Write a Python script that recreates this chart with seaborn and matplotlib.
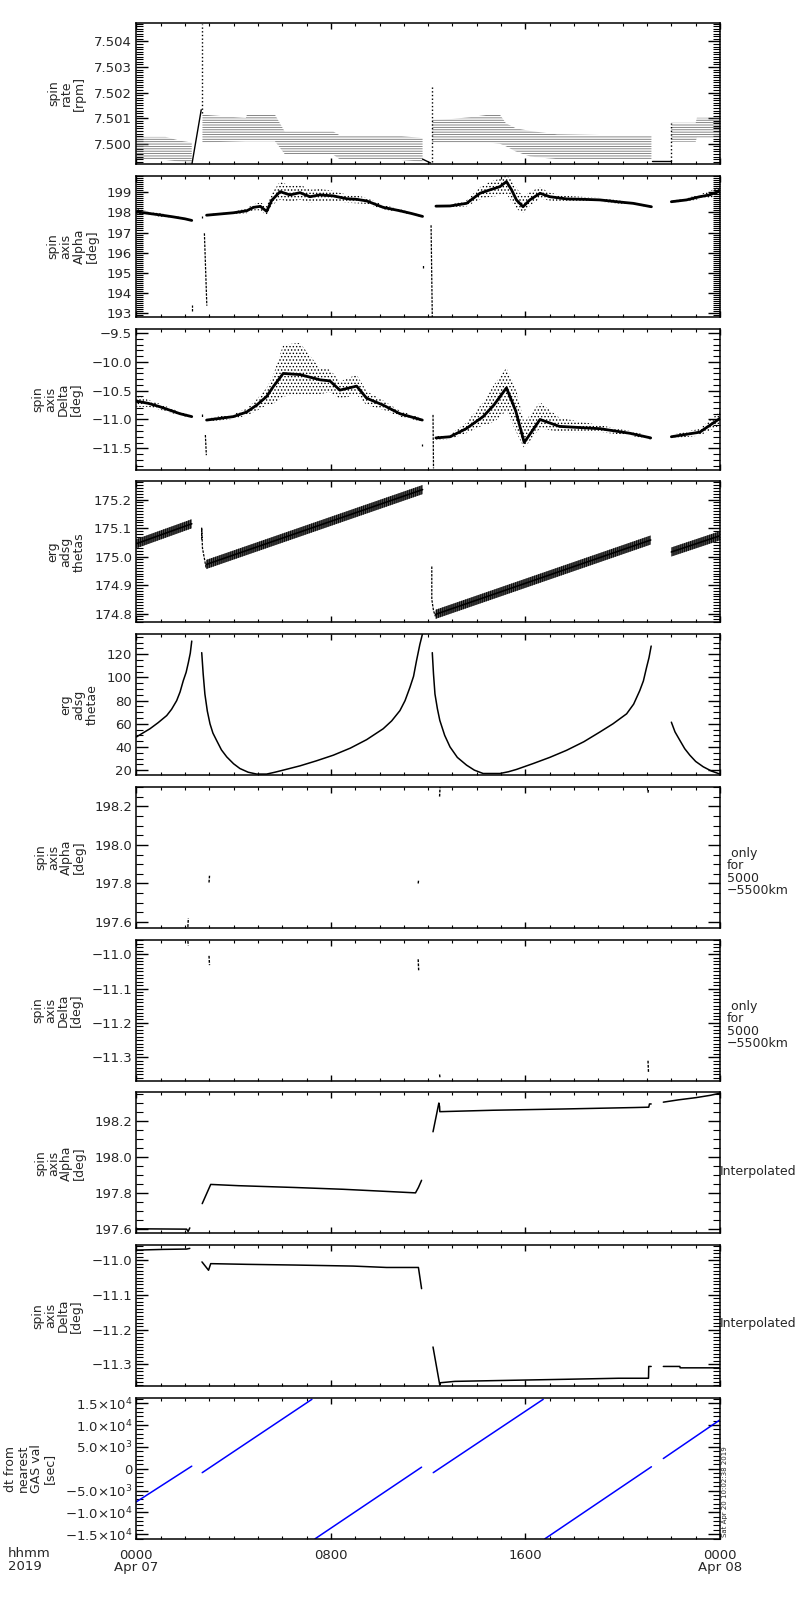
import numpy as np
import pandas as pd
import matplotlib
matplotlib.use('Agg')
import matplotlib.pyplot as plt
from matplotlib.ticker import MultipleLocator
import seaborn as sns

sns.set_style('ticks')
plt.rcParams['font.family'] = ['DejaVu Sans']
plt.rcParams['hatch.linewidth'] = 0.6
plt.rcParams['axes.linewidth'] = 1.1

# time axis (hours from 2019-04-07 00:00)
hour_ticks = [0, 8, 16, 24]
hour_labels = ['0000\nApr 07', '0800', '1600', '0000\nApr 08']

# --- panel 1: spin rate [rpm] (quantized band)
rate_band_t = [0, 1.2, 1.8, 2.28,
               2.72, 4.5, 4.55, 5.7, 6.1, 8.1, 8.4, 10.84, 11.77,
               12.17, 13.0, 13.8, 14.5, 14.95, 15.2, 15.6, 16.2, 17.3, 21.18,
               22.0, 23.0, 23.05, 24.0]
rate_band_hi = [7.50027, 7.50027, 7.50012, 7.50005,
                7.50114, 7.50101, 7.50114, 7.50114, 7.50048, 7.50048, 7.50031, 7.50031, 7.50022,
                7.50094, 7.50097, 7.50105, 7.50114, 7.50114, 7.5008, 7.50061, 7.5005, 7.50037, 7.50031,
                7.50082, 7.50082, 7.50102, 7.50102]
rate_band_lo = [7.49937, 7.49937, 7.4993, 7.49925,
                7.50005, 7.5001, 7.5001, 7.5001, 7.4996, 7.49957, 7.49937, 7.49937, 7.4993,
                7.50005, 7.50005, 7.50005, 7.50005, 7.5, 7.4999, 7.4997, 7.4995, 7.4994, 7.4994,
                7.50008, 7.50008, 7.50024, 7.50024]
rate_band_seg = [0] * 4 + [1] * 9 + [2] * 10 + [3] * 4
rate_line_t = [2.29, 2.67, 11.77, 12.1, 21.2, 22.0]
rate_line_v = [7.49922, 7.50133, 7.4994, 7.49925, 7.49932, 7.49932]
rate_line_seg = [0, 0, 1, 1, 2, 2]
rate_spike_t = [2.72, 2.72, 12.17, 12.17, 22.0, 22.0]
rate_spike_v = [7.5012, 7.5047, 7.4993, 7.50224, 7.49932, 7.5008]
rate_spike_seg = [0, 0, 1, 1, 2, 2]

# --- panel 2: spin axis alpha [deg]
alpha_t = [0, 0.5, 1.0, 1.5, 2.0, 2.28,
           2.89, 3.99, 4.54, 4.82, 5.1, 5.36, 5.57, 5.91, 6.32, 6.73, 7.14, 7.55, 8.1, 8.65,
           9.06, 9.47, 10.15, 10.84, 11.3, 11.77,
           12.32, 12.9, 13.58, 14.13, 14.54, 14.95, 15.22, 15.43, 15.63, 15.9, 16.18, 16.6,
           17.0, 17.69, 18.37, 19.06, 19.75, 20.43, 21.18,
           22.0, 22.62, 23.17, 23.58, 24.0]
alpha_v = [198.03, 197.95, 197.87, 197.78, 197.68, 197.6,
           197.86, 197.98, 198.08, 198.25, 198.3, 198.05, 198.6, 199.03, 198.87, 198.98, 198.78,
           198.87, 198.82, 198.68, 198.65, 198.57, 198.25, 198.08, 197.95, 197.8,
           198.31, 198.32, 198.45, 198.95, 199.12, 199.28, 199.53, 199.12, 198.62, 198.28,
           198.62, 198.95, 198.78, 198.67, 198.65, 198.62, 198.53, 198.45, 198.28,
           198.53, 198.62, 198.78, 198.87, 199.08]
alpha_up = [0.15, 0.1, 0.08, 0.06, 0.04, 0.03,
            0.04, 0.05, 0.12, 0.15, 0.2, 0.25, 0.35, 0.5, 0.45, 0.4, 0.35, 0.3, 0.25, 0.2,
            0.2, 0.15, 0.12, 0.08, 0.05, 0.04,
            0.03, 0.05, 0.15, 0.3, 0.4, 0.4, 0.3, 0.5, 0.6, 0.5, 0.4, 0.3, 0.2, 0.15, 0.12,
            0.1, 0.08, 0.05, 0.04,
            0.05, 0.08, 0.12, 0.18, 0.25]
alpha_dn = [0.15, 0.1, 0.08, 0.06, 0.04, 0.03,
            0.04, 0.05, 0.12, 0.15, 0.2, 0.2, 0.25, 0.4, 0.35, 0.35, 0.3, 0.3, 0.25, 0.2,
            0.2, 0.15, 0.1, 0.08, 0.05, 0.04,
            0.03, 0.05, 0.15, 0.3, 0.35, 0.45, 0.6, 0.6, 0.45, 0.3, 0.3, 0.25, 0.2, 0.15, 0.12,
            0.1, 0.08, 0.05, 0.04,
            0.05, 0.08, 0.12, 0.15, 0.2]
alpha_seg = [0] * 6 + [1] * 20 + [2] * 19 + [3] * 5
alpha_spike_t = [2.28, 2.28, 2.69, 2.69, 2.8, 2.9, 11.77, 11.77, 12.12, 12.17]
alpha_spike_v = [193.1, 193.4, 197.74, 197.82, 196.96, 193.36, 195.25, 195.4, 197.36, 192.8]
alpha_spike_seg = [0, 0, 1, 1, 2, 2, 3, 3, 4, 4]

# --- panel 3: spin axis delta [deg]
delta_t = [0, 0.5, 0.98, 1.8, 2.28,
           2.89, 3.99, 4.54, 4.95, 5.36, 5.63, 6.04, 6.73, 7.55, 7.96, 8.37, 9.06, 9.47,
           10.15, 10.84, 11.76,
           12.32, 12.9, 13.56, 14.26, 14.7, 15.22, 15.6, 15.95, 16.6, 17.4, 19.07, 20.3, 21.15,
           22.0, 23.17, 24.0]
delta_v = [-10.68, -10.72, -10.78, -10.9, -10.95,
           -11.01, -10.95, -10.87, -10.75, -10.6, -10.43, -10.2, -10.22, -10.31, -10.33,
           -10.49, -10.42, -10.63, -10.75, -10.9, -11.01,
           -11.32, -11.3, -11.16, -10.95, -10.75, -10.45, -10.85, -11.4, -11.0, -11.12,
           -11.16, -11.24, -11.32,
           -11.3, -11.22, -10.98]
delta_up = [0.1, 0.06, 0.05, 0.03, 0.02,
            0.03, 0.04, 0.06, 0.1, 0.15, 0.2, 0.5, 0.55, 0.2, 0.2, 0.15, 0.2, 0.12, 0.08,
            0.05, 0.03,
            0.03, 0.04, 0.1, 0.25, 0.35, 0.35, 0.4, 0.35, 0.3, 0.15, 0.06, 0.04, 0.03,
            0.03, 0.06, 0.12]
delta_dn = [0.1, 0.06, 0.05, 0.03, 0.02,
            0.03, 0.04, 0.06, 0.1, 0.15, 0.3, 0.4, 0.35, 0.25, 0.2, 0.15, 0.15, 0.12, 0.08,
            0.05, 0.03,
            0.03, 0.04, 0.08, 0.15, 0.3, 0.4, 0.35, 0.1, 0.15, 0.1, 0.06, 0.04, 0.03,
            0.03, 0.06, 0.12]
delta_seg = [0] * 5 + [1] * 16 + [2] * 13 + [3] * 3
delta_spike_t = [2.69, 2.69, 2.84, 2.88, 11.76, 11.76, 12.2, 12.22]
delta_spike_v = [-10.9, -10.95, -11.27, -11.62, -11.42, -11.46, -10.92, -11.85]
delta_spike_seg = [0, 0, 1, 1, 2, 2, 3, 3]

# --- panel 4: erg adsg thetas
thetas_t = [0, 2.28, 2.87, 11.77, 12.3, 21.15, 22.0, 24.0]
thetas_v = [175.045, 175.115, 174.972, 175.235, 174.797, 175.058, 175.016, 175.073]
thetas_seg = [0, 0, 1, 1, 2, 2, 3, 3]
thetas_halfwidth = 0.016
thetas_jump_t = [2.69, 2.69, 2.72, 2.87, 12.15, 12.15, 12.22, 12.3]
thetas_jump_v = [175.06, 175.1, 175.03, 174.96, 174.965, 174.85, 174.81, 174.79]
thetas_jump_seg = [0, 0, 0, 0, 1, 1, 1, 1]

# --- panel 5: erg adsg thetae
thetae_t = [0, 0.25, 0.56, 0.9, 1.25, 1.45, 1.66, 1.8, 1.93, 2.05, 2.14, 2.22, 2.28,
            2.69, 2.75, 2.82, 2.92, 3.03, 3.15, 3.3, 3.5, 3.72, 4.0, 4.26, 4.6, 4.95, 5.36,
            5.7, 6.04, 6.73, 7.4, 8.1, 8.8, 9.47, 10.15, 10.5, 10.84, 11.05, 11.25, 11.4,
            11.52, 11.66, 11.76,
            12.17, 12.22, 12.28, 12.38, 12.48, 12.68, 12.9, 13.2, 13.58, 13.9, 14.26, 14.95,
            15.3, 15.63, 16.32, 17.0, 17.69, 18.4, 19.06, 19.6, 20.16, 20.45, 20.7, 20.85,
            20.98, 21.08, 21.17,
            22.0, 22.15, 22.35, 22.55, 22.76, 23.0, 23.31, 23.65, 24.0]
thetae_v = [48.6, 51.8, 55.7, 61, 67.1, 72.5, 80, 87.5, 97.1, 104.5, 112.8, 121, 131.4,
            121.4, 103, 85.7, 71, 60, 52, 45.7, 37.5, 31.4, 25.5, 21.4, 18.2, 16.6, 16.6,
            18.2, 20, 23.7, 28, 32.9, 39, 46.3, 55.7, 62.5, 71.4, 80, 91.4, 101,
            114.3, 128.6, 137,
            121.4, 103, 85.7, 73, 62.9, 50, 40, 31, 24.3, 20, 17.1, 17.1,
            18.6, 20.6, 25.7, 31, 37.1, 44.5, 52.9, 60, 68.6, 77, 88.6, 97,
            108.6, 117, 127.1,
            61.4, 53, 45.7, 38.5, 32.9, 27.5, 22.9, 19.2, 16.6]
thetae_seg = [0] * 13 + [1] * 30 + [2] * 27 + [3] * 9

# --- panel 6: alpha, only for 5000-5500 km
alt_alpha_t = [2.12, 2.14, 2.99, 3.01, 11.59, 11.61, 12.47, 12.49, 21.04, 21.06]
alt_alpha_v = [197.575, 197.62, 197.805, 197.84, 197.80, 197.82, 198.25, 198.3, 198.27, 198.29]
alt_alpha_seg = [0, 0, 1, 1, 2, 2, 3, 3, 4, 4]

# --- panel 7: delta, only for 5000-5500 km
alt_delta_t = [2.12, 2.14, 2.99, 3.01, 11.59, 11.61, 12.47, 12.49, 21.04, 21.06]
alt_delta_v = [-10.962, -10.975, -11.005, -11.032, -11.015, -11.047, -11.35, -11.362, -11.31, -11.345]
alt_delta_seg = [0, 0, 1, 1, 2, 2, 3, 3, 4, 4]

# --- panel 8: alpha, interpolated
ip_alpha_t = [0, 2.07, 2.13, 2.2,
              2.71, 3.06, 4.2, 6.5, 8.5, 10.0, 11.48, 11.6, 11.73,
              12.2, 12.44, 12.47, 12.48, 14.67, 17.55, 20.47, 21.07, 21.1, 21.17,
              21.67, 22.3, 23.0, 23.6, 24.0]
ip_alpha_v = [197.6, 197.598, 197.585, 197.605,
              197.74, 197.847, 197.84, 197.83, 197.82, 197.81, 197.80, 197.83, 197.87,
              198.14, 198.3, 198.28, 198.252, 198.26, 198.267, 198.275, 198.277, 198.295, 198.295,
              198.305, 198.318, 198.33, 198.343, 198.355]
ip_alpha_seg = [0] * 4 + [1] * 9 + [2] * 10 + [3] * 5

# --- panel 9: delta, interpolated
ip_delta_t = [0, 1.1, 2.07, 2.2,
              2.7, 2.97, 3.06, 4.54, 6.52, 8.92, 10.29, 11.6, 11.73,
              12.2, 12.48, 12.49, 13.1, 15.33, 17.63, 19.83, 21.06, 21.07, 21.17,
              21.67, 22.35, 22.36, 24.0]
ip_delta_v = [-10.971, -10.969, -10.968, -10.966,
              -11.005, -11.029, -11.01, -11.012, -11.014, -11.017, -11.021, -11.021, -11.082,
              -11.25, -11.36, -11.353, -11.349, -11.346, -11.343, -11.34, -11.34, -11.306, -11.306,
              -11.306, -11.306, -11.31, -11.31]
ip_delta_seg = [0] * 4 + [1] * 9 + [2] * 10 + [3] * 4

# --- panel 10: dt from nearest GAS value [sec]
dt_t = [0, 2.28, 2.71, 7.22, 7.35, 11.73, 12.21, 16.73, 16.8, 21.18, 21.67, 24.0]
dt_v = [-7590, 590, -900, 15900, -16050, 360, -900, 15900, -16050, 450, 2340, 11200]
dt_seg = [0, 0, 1, 1, 2, 2, 3, 3, 4, 4, 5, 5]
dt_ticks = [-15000, -10000, -5000, 0, 5000, 10000, 15000]
dt_tick_labels = ['−1.5×10$^{4}$', '−1.0×10$^{4}$', '−5.0×10$^{3}$', '0',
                  '5.0×10$^{3}$', '1.0×10$^{4}$', '1.5×10$^{4}$']


def draw_line(ax, t, v, seg, color='k', lw=1.0, ls='-'):
    df = pd.DataFrame({'t': t, 'v': v, 'seg': seg})
    sns.lineplot(data=df, x='t', y='v', units='seg', estimator=None, sort=False,
                 color=color, lw=lw, ls=ls, ax=ax, legend=False)


def draw_band(ax, t, lo, hi, seg, hatch, color='k', face='none'):
    df = pd.DataFrame({'t': t, 'lo': lo, 'hi': hi, 'seg': seg})
    for _, g in df.groupby('seg'):
        ax.fill_between(g['t'], g['lo'], g['hi'], facecolor=face,
                        edgecolor=color, hatch=hatch, lw=0)


def style(ax, ylim, ticks, fmt, minor, label, tick_labels=None):
    ax.set_xlim(0, 24)
    ax.set_ylim(*ylim)
    ax.set_xticks(hour_ticks)
    ax.set_xticklabels([])
    ax.xaxis.set_minor_locator(MultipleLocator(1))
    ax.set_yticks(ticks)
    if tick_labels is None:
        tick_labels = [fmt.format(v).replace('-', '−') for v in ticks]
    ax.set_yticklabels(tick_labels)
    ax.yaxis.set_minor_locator(MultipleLocator(minor))
    ax.tick_params(which='both', direction='in', top=True, right=True,
                   labelsize=9.5, pad=3, color='k')
    ax.tick_params(axis='y', which='major', length=8.5, width=1)
    ax.tick_params(axis='y', which='minor', length=5, width=0.8)
    ax.tick_params(axis='x', which='major', length=4.5, width=1)
    ax.tick_params(axis='x', which='minor', length=2.5, width=0.8)
    ax.set_xlabel('')
    ax.set_ylabel(label, fontsize=9, linespacing=1.0, labelpad=6)
    for s in ax.spines.values():
        s.set_visible(True)
        s.set_linewidth(1.1)
        s.set_color('k')


fig = plt.figure(figsize=(8, 16), dpi=100)
axes = []
for i in range(10):
    top = 23 + i * 152.78
    axes.append(fig.add_axes([136.3 / 800, 1 - (top + 141) / 1600, 583.7 / 800, 141 / 1600]))

# panel 1
ax = axes[0]
draw_band(ax, rate_band_t, rate_band_lo, rate_band_hi, rate_band_seg, '-------', color='0.45')
draw_line(ax, rate_line_t, rate_line_v, rate_line_seg)
draw_line(ax, rate_spike_t, rate_spike_v, rate_spike_seg, ls=':')
style(ax, (7.49921, 7.50472), [7.500, 7.501, 7.502, 7.503, 7.504], '{:.3f}', 0.0001,
      'spin\nrate\n[rpm]')

# panel 2
ax = axes[1]
a_v = np.array(alpha_v)
draw_band(ax, alpha_t, a_v - np.array(alpha_dn), a_v + np.array(alpha_up), alpha_seg, '.....')
draw_line(ax, alpha_t, alpha_v, alpha_seg, lw=2.0)
draw_line(ax, alpha_spike_t, alpha_spike_v, alpha_spike_seg, lw=0.9, ls=(0, (2, 1)))
style(ax, (192.81, 199.82), [193, 194, 195, 196, 197, 198, 199], '{:.0f}', 0.1,
      'spin\naxis\nAlpha\n[deg]')

# panel 3
ax = axes[2]
d_v = np.array(delta_v)
draw_band(ax, delta_t, d_v - np.array(delta_dn), d_v + np.array(delta_up), delta_seg, '.....')
draw_line(ax, delta_t, delta_v, delta_seg, lw=2.0)
draw_line(ax, delta_spike_t, delta_spike_v, delta_spike_seg, lw=0.9, ls=(0, (2, 1)))
style(ax, (-11.87, -9.42), [-11.5, -11.0, -10.5, -10.0, -9.5], '{:.1f}', 0.1,
      'spin\naxis\nDelta\n[deg]')

# panel 4
ax = axes[3]
th_v = np.array(thetas_v)
draw_band(ax, thetas_t, th_v - thetas_halfwidth, th_v + thetas_halfwidth, thetas_seg,
          '||||||||', face='0.3')
draw_line(ax, thetas_t, thetas_v, thetas_seg, lw=1.2)
draw_line(ax, thetas_jump_t, thetas_jump_v, thetas_jump_seg, lw=0.9, ls=(0, (2, 1)))
style(ax, (174.769, 175.264), [174.8, 174.9, 175.0, 175.1, 175.2], '{:.1f}', 0.01,
      'erg\nadsg\nthetas')

# panel 5
ax = axes[4]
draw_line(ax, thetae_t, thetae_v, thetae_seg, lw=1.1)
style(ax, (15.7, 137.4), [20, 40, 60, 80, 100, 120], '{:.0f}', 5,
      'erg\nadsg\nthetae')

# panel 6
ax = axes[5]
draw_line(ax, alt_alpha_t, alt_alpha_v, alt_alpha_seg, lw=1.0, ls=(0, (2, 1)))
style(ax, (197.57, 198.3), [197.6, 197.8, 198.0, 198.2], '{:.1f}', 0.05,
      'spin\naxis\nAlpha\n[deg]')

# panel 7
ax = axes[6]
draw_line(ax, alt_delta_t, alt_delta_v, alt_delta_seg, lw=1.0, ls=(0, (2, 1)))
style(ax, (-11.368, -10.958), [-11.3, -11.2, -11.1, -11.0], '{:.1f}', 0.01,
      'spin\naxis\nDelta\n[deg]')

# panel 8
ax = axes[7]
draw_line(ax, ip_alpha_t, ip_alpha_v, ip_alpha_seg, lw=1.1)
style(ax, (197.574, 198.359), [197.6, 197.8, 198.0, 198.2], '{:.1f}', 0.05,
      'spin\naxis\nAlpha\n[deg]')

# panel 9
ax = axes[8]
draw_line(ax, ip_delta_t, ip_delta_v, ip_delta_seg, lw=1.1)
style(ax, (-11.363, -10.957), [-11.3, -11.2, -11.1, -11.0], '{:.1f}', 0.01,
      'spin\naxis\nDelta\n[deg]')

# panel 10
ax = axes[9]
draw_line(ax, dt_t, dt_v, dt_seg, color='#0000ff', lw=1.1)
style(ax, (-16100, 16200), dt_ticks, None, 1000,
      'dt from\nnearest\nGAS val\n[sec]', tick_labels=dt_tick_labels)
ax.set_xticklabels(hour_labels)
ax.tick_params(axis='x', which='major', labelsize=9.5, pad=7)
for lbl in ax.get_xticklabels():
    lbl.set_linespacing(0.95)

# side annotations
fig.text(727 / 800, 1 - 872 / 1600, ' only\nfor\n5000\n−5500km', fontsize=9,
         ha='left', va='center', linespacing=0.95)
fig.text(727 / 800, 1 - 1025 / 1600, ' only\nfor\n5000\n−5500km', fontsize=9,
         ha='left', va='center', linespacing=0.95)
fig.text(720 / 800, 1 - 1172 / 1600, 'Interpolated', fontsize=9, ha='left', va='center')
fig.text(720 / 800, 1 - 1324 / 1600, 'Interpolated', fontsize=9, ha='left', va='center')
fig.text(8 / 800, 1 - 1547 / 1600, 'hhmm\n2019', fontsize=9.5, ha='left', va='top',
         linespacing=0.95)
fig.text(722 / 800, 1 - 1537 / 1600, 'Sat Apr 20 10:02:38 2019', fontsize=5,
         rotation=90, ha='left', va='bottom')

fig.savefig('out.png', dpi=100)
